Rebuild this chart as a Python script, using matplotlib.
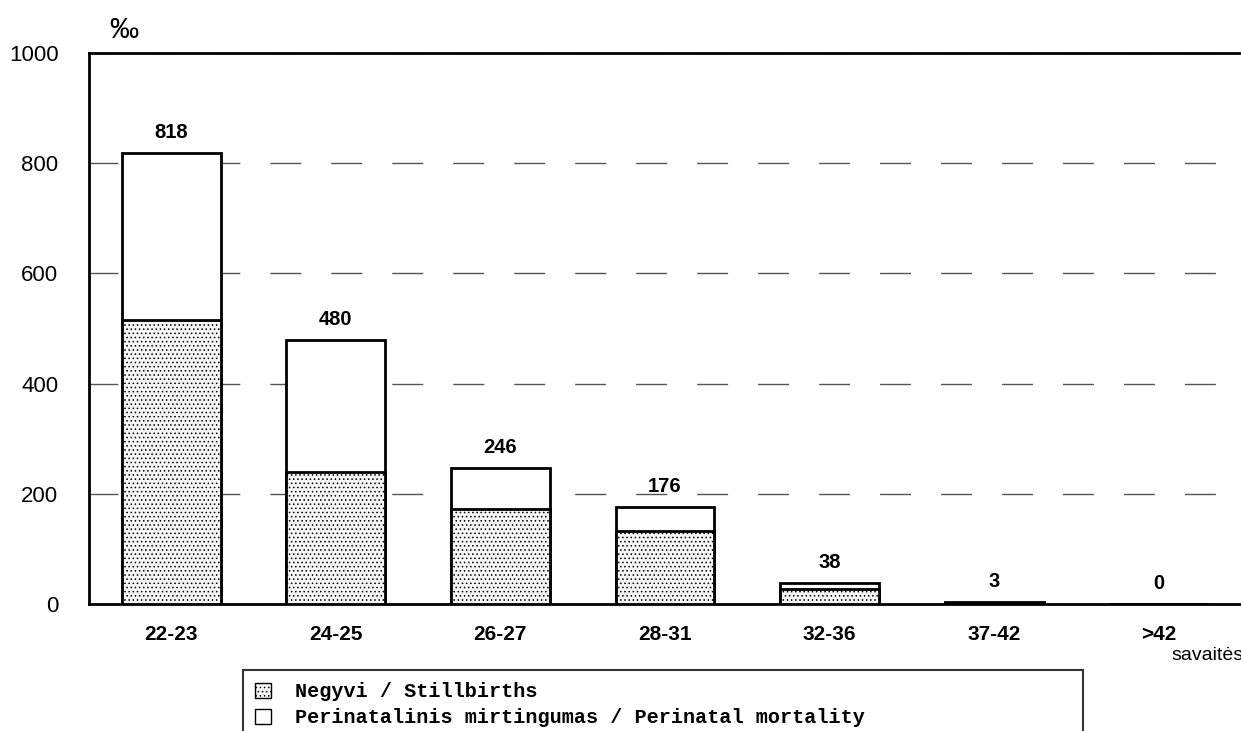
import matplotlib.pyplot as plt
import matplotlib as mpl

# Data (per mille)
weeks = ["22-23", "24-25", "26-27", "28-31", "32-36", "37-42", ">42"]
perinatal = [818, 480, 246, 176, 38, 3, 0]
stillbirths = [515, 240, 172, 132, 27, 2, 0]

mpl.rcParams["font.family"] = ["Liberation Sans", "DejaVu Sans"]
mpl.rcParams["hatch.color"] = "#a8a8a8"
mpl.rcParams["hatch.linewidth"] = 0.6

fig = plt.figure(figsize=(12.41, 7.31), dpi=100)
ax = fig.add_axes([89 / 1241, 1 - 604 / 731, 1152 / 1241, 551 / 731])

x = range(len(weeks))

# Full bar = perinatal mortality, stippled part = stillbirths
ax.bar(x, perinatal, width=0.6, color="white", edgecolor="black", linewidth=2, zorder=3,
       label="Perinatalinis mirtingumas / Perinatal mortality")
ax.bar(x, stillbirths, width=0.6, color="#f6f6f6", edgecolor="black", linewidth=2,
       hatch="....", zorder=4, label="Negyvi / Stillbirths")

for i, v in enumerate(perinatal):
    ax.text(i, v + 20, str(v), ha="center", va="bottom", fontsize=14.5, fontweight="bold")

ax.set_xlim(-0.5, 6.5)
ax.set_ylim(0, 1000)
ax.set_yticks([0, 200, 400, 600, 800, 1000])
ax.set_yticklabels(["0", "200", "400", "600", "800", "1000"], fontsize=16)
ax.set_xticks(list(x))
ax.set_xticklabels(weeks, fontsize=15, fontweight="bold")
ax.tick_params(length=0)
ax.tick_params(axis="x", pad=15)
ax.tick_params(axis="y", pad=22)

ax.yaxis.grid(True, color="#555555", linestyle=(1.5, (22.3, 21.6)), linewidth=1)
ax.set_axisbelow(True)

for s in ["left", "top", "bottom"]:
    ax.spines[s].set_linewidth(2)
ax.spines["right"].set_visible(False)

fig.text(109 / 1241, 1 - 30 / 731, "‰", fontsize=21, ha="left", va="center")
fig.text(1207 / 1241, 1 - 656 / 731, "savaitės", fontsize=14, ha="center", va="center")

# legend box runs off the bottom edge like in the original
handles, labels = ax.get_legend_handles_labels()
leg = fig.legend(handles[::-1], labels[::-1], loc="upper left",
                 bbox_to_anchor=(243 / 1241, 1 - 677 / 731, 840 / 1241, 0.01),
                 mode="expand", ncol=1, frameon=True, fancybox=False,
                 prop={"family": "Liberation Mono", "weight": "bold", "size": 14.5},
                 handlelength=0.75, handleheight=0.75, handletextpad=1.2,
                 borderpad=0.62, labelspacing=0.35, borderaxespad=0)
leg.get_frame().set_edgecolor("black")
leg.get_frame().set_linewidth(1.5)
for h in leg.legend_handles:
    h.set_linewidth(1)

fig.savefig("out.png", dpi=100)
